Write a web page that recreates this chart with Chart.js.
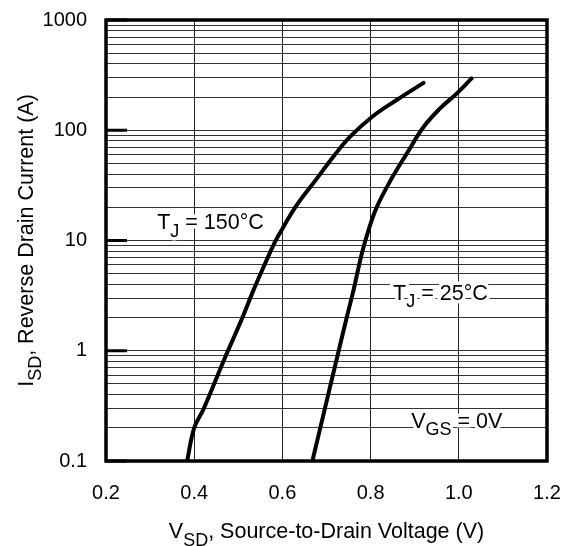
<!DOCTYPE html>
<html>
<head>
<meta charset="utf-8">
<script src="https://cdn.jsdelivr.net/npm/chart.js@4.4.0/dist/chart.umd.min.js"></script>
<style>
  html, body { margin: 0; padding: 0; background: #fff; }
  canvas { display: block; }
</style>
</head>
<body>
<canvas id="diodeChart" width="564" height="546"></canvas>
<script>
// body diode forward curves
const vsd150 = [0.384, 0.40, 0.421, 0.47, 0.508, 0.534, 0.5605, 0.583, 0.602, 0.632, 0.678, 0.715, 0.753, 0.803, 0.859, 0.92];
const isd150 = [0.1, 0.2, 0.295, 0.87, 1.94, 3.51, 6.14, 9.66, 13.2, 20.8, 36.4, 57.2, 86.9, 132, 188, 269];
const vsd25 = [0.668, 0.696, 0.724, 0.745, 0.761, 0.780, 0.795, 0.814, 0.846, 0.882, 0.920, 0.957, 0.995, 1.029];
const isd25 = [0.1, 0.295, 0.87, 1.94, 3.51, 7.57, 12.3, 20.1, 35.5, 61.4, 107, 157, 215, 295];

const xTicks = [0.2, 0.4, 0.6, 0.8, 1.0, 1.2];
const yDecades = [0.1, 1, 10, 100, 1000];

// labels inside the plot: [text, isSubscript] pieces
const notes = [
    [['T', false], ['J', true], [' = 150°C', false]],
    [['T', false], ['J', true], [' = 25°C', false]],
    [['V', false], ['GS', true], [' = 0V', false]]
];
const noteX = [0.316, 0.851, 0.892];
const noteY = [12.6, 2.91, 0.2];

const xTitle = [['V', false], ['SD', true], [', Source-to-Drain Voltage (V)', false]];
const yTitle = [['I', false], ['SD', true], [', Reverse Drain Current (A)', false]];

const FONT = '"Liberation Sans", Arial, Helvetica, sans-serif';

function toPoints(xs, ys) {
    return xs.map((x, i) => ({ x: x, y: ys[i] }));
}

function richWidth(ctx, parts) {
    let w = 0;
    parts.forEach(p => {
        ctx.font = (p[1] ? 18 : 21.5) + 'px ' + FONT;
        w += ctx.measureText(p[0]).width;
    });
    return w;
}

function drawRich(ctx, parts, x, y, halo) {
    let passes = halo ? ['stroke', 'fill'] : ['fill'];
    passes.forEach(pass => {
        let cx = x;
        parts.forEach(p => {
            ctx.font = (p[1] ? 18 : 21.5) + 'px ' + FONT;
            let dy = p[1] ? 7.5 : 0;
            if (pass == 'stroke') {
                ctx.strokeText(p[0], cx, y + dy);
            } else {
                ctx.fillText(p[0], cx, y + dy);
            }
            cx += ctx.measureText(p[0]).width;
        });
    });
}

const extras = {
    id: 'extras',
    afterDatasetsDraw(chart) {
        const ctx = chart.ctx;
        const xs = chart.scales.x, ys = chart.scales.y;
        ctx.save();
        ctx.textAlign = 'left';
        ctx.textBaseline = 'alphabetic';
        ctx.strokeStyle = '#fff';
        ctx.lineWidth = 7;
        ctx.lineJoin = 'round';
        ctx.fillStyle = '#000';
        notes.forEach((n, i) => {
            drawRich(ctx, n, xs.getPixelForValue(noteX[i]), ys.getPixelForValue(noteY[i]), true);
        });
        ctx.restore();
    },
    afterDraw(chart) {
        const ctx = chart.ctx;
        const a = chart.chartArea;
        const ys = chart.scales.y;
        ctx.save();
        // heavy frame
        ctx.strokeStyle = '#000';
        ctx.lineWidth = 3.5;
        ctx.strokeRect(a.left, a.top, a.right - a.left, a.bottom - a.top);
        // short thick marks at each decade
        ctx.lineWidth = 3;
        yDecades.forEach(v => {
            const py = ys.getPixelForValue(v);
            ctx.beginPath();
            ctx.moveTo(a.left, py);
            ctx.lineTo(a.left + 21, py);
            ctx.stroke();
        });
        // axis titles with subscripts
        ctx.fillStyle = '#000';
        ctx.textBaseline = 'alphabetic';
        const cx = (a.left + a.right) / 2;
        drawRich(ctx, xTitle, cx - richWidth(ctx, xTitle) / 2, a.bottom + 77, false);
        ctx.translate(33, (a.top + a.bottom) / 2);
        ctx.rotate(-Math.PI / 2);
        drawRich(ctx, yTitle, -richWidth(ctx, yTitle) / 2, 0, false);
        ctx.restore();
    }
};

const ctx = document.getElementById('diodeChart').getContext('2d');
const diodeChart = new Chart(ctx, {
    type: 'line',
    data: {
        datasets: [{
            label: 'TJ = 150°C',
            data: toPoints(vsd150, isd150),
            borderColor: '#000',
            borderWidth: 4,
            pointRadius: 0,
            tension: 0.4,
            borderCapStyle: 'round',
            fill: false
        }, {
            label: 'TJ = 25°C',
            data: toPoints(vsd25, isd25),
            borderColor: '#000',
            borderWidth: 4,
            pointRadius: 0,
            tension: 0.4,
            borderCapStyle: 'round',
            fill: false
        }]
    },
    options: {
        responsive: false,
        animation: false,
        devicePixelRatio: 1,
        layout: { padding: { top: 20, right: 17, left: 0, bottom: 0 } },
        plugins: {
            legend: { display: false },
            tooltip: { enabled: false }
        },
        scales: {
            x: {
                type: 'linear',
                min: 0.2,
                max: 1.2,
                afterBuildTicks: s => { s.ticks = xTicks.map(v => ({ value: v })); },
                afterFit: s => { s.height = 85; },
                grid: { color: '#222', lineWidth: 1, drawTicks: true, tickLength: 20, tickColor: 'rgba(0,0,0,0)' },
                border: { display: false },
                ticks: {
                    autoSkip: false,
                    maxRotation: 0,
                    padding: 0,
                    color: '#000',
                    font: { family: FONT, size: 20 },
                    callback: v => Number(v).toFixed(1)
                }
            },
            y: {
                type: 'logarithmic',
                min: 0.1,
                max: 1000,
                afterBuildTicks: s => {
                    let t = [];
                    yDecades.forEach((d, i) => {
                        if (i == yDecades.length - 1) {
                            t.push({ value: d });
                            return;
                        }
                        for (let m = 1; m < 10; m++) t.push({ value: +(d * m).toPrecision(3) });
                    });
                    s.ticks = t;
                },
                afterFit: s => { s.width = 106; },
                grid: { color: '#333', lineWidth: 1, drawTicks: true, tickLength: 19, tickColor: 'rgba(0,0,0,0)' },
                border: { display: false },
                ticks: {
                    autoSkip: false,
                    padding: 0,
                    color: '#000',
                    font: { family: FONT, size: 20 },
                    callback: v => yDecades.includes(v) ? String(v) : ''
                }
            }
        }
    },
    plugins: [extras]
});
</script>
</body>
</html>
